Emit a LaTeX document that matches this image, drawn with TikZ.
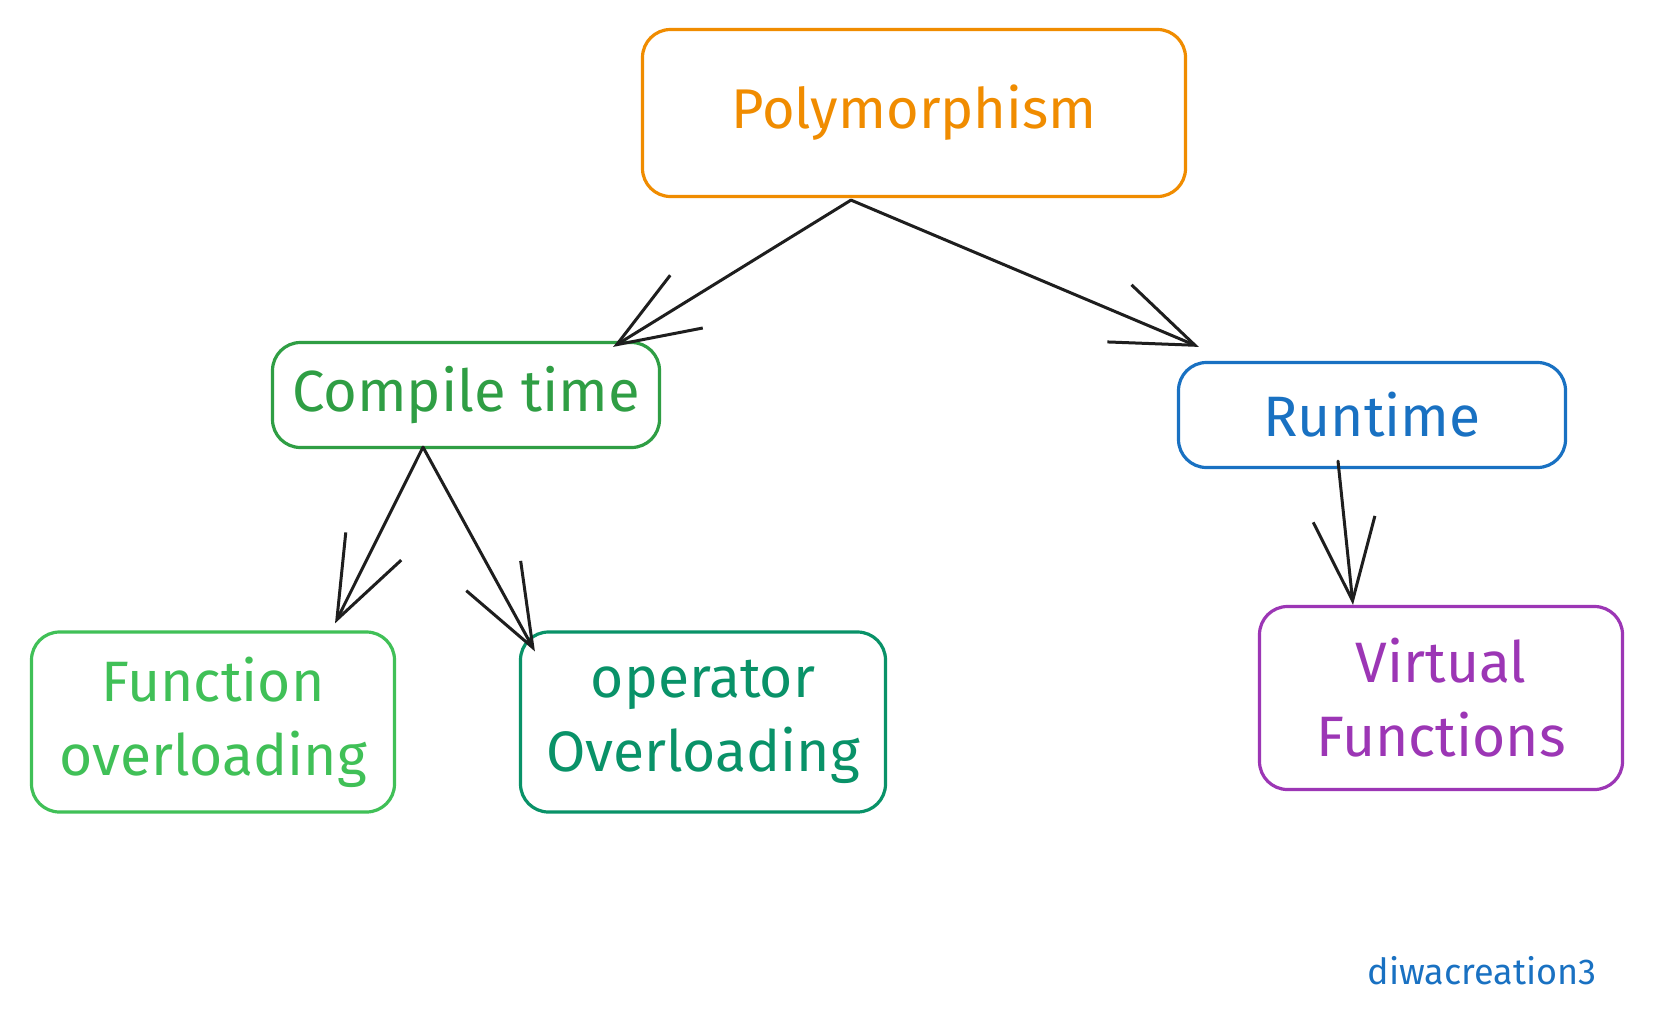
\documentclass[tikz,border=0pt]{standalone}
\usepackage{fontspec}
\setmainfont{Fira Sans}
\definecolor{polyOrange}{RGB}{240, 140, 0}
\definecolor{compileGreen}{RGB}{47, 158, 68}
\definecolor{runBlue}{RGB}{25, 113, 194}
\definecolor{funcGreen}{RGB}{64, 192, 87}
\definecolor{operTeal}{RGB}{9, 146, 104}
\definecolor{virtPurple}{RGB}{156, 54, 181}
\definecolor{inkBlack}{RGB}{30, 30, 30}
\usetikzlibrary{arrows.meta}

\begin{document}
\begin{tikzpicture}[x=1pt, y=-1pt,
    box/.style={rectangle, rounded corners=28pt, line width=3.2pt, inner sep=0pt, align=center,
        font=\fontsize{57}{74}\selectfont},
    link/.style={-{Straight Barb[length=82pt, width=62pt, line width=3pt]}, line width=3pt, inkBlack,
        line cap=round, line join=round}]
    \useasboundingbox[fill=white] (0,0) rectangle (1653,1026);

    \node[box, draw=polyOrange, text=polyOrange, minimum width=543pt, minimum height=167pt,
        font=\fontsize{56}{74}\selectfont] (poly) at (914,113) {Polymorphism};

    \node[box, draw=compileGreen, text=compileGreen, minimum width=387pt, minimum height=105pt,
        font=\fontsize{58}{74}\selectfont] (compile) at (466,395) {Compile time};

    \node[box, draw=runBlue, text=runBlue, minimum width=387pt, minimum height=105pt] (runtime) at (1372,415) {Runtime};

    \node[box, draw=funcGreen, text=funcGreen, minimum width=363pt, minimum height=180pt] (funcover) at (213,722) {Function\\overloading};

    \node[box, draw=operTeal, text=operTeal, minimum width=365pt, minimum height=180pt] (operover) at (703,722) {operator\\Overloading};

    \node[box, draw=virtPurple, text=virtPurple, minimum width=363pt, minimum height=183pt] (virtual) at (1441,698) {Virtual\\Functions};

    \node[text=runBlue, font=\fontsize{36}{42}\selectfont] (sign) at (1482,971) {diwacreation3};

    \draw[link] ([xshift=-63pt, yshift=-2pt]poly.south) -- ([xshift=-48pt, yshift=-6pt]compile.north east);
    \draw[link] ([xshift=-63pt, yshift=-2pt]poly.south) -- ([xshift=22pt, yshift=14pt]runtime.north west);
    \draw[link] ([xshift=-43pt, yshift=2pt]compile.south) -- ([xshift=122pt, yshift=7pt]funcover.north);
    \draw[link] ([xshift=-43pt, yshift=2pt]compile.south) -- ([xshift=16pt, yshift=-21pt]operover.north west);
    \draw[link] ([xshift=-34pt, yshift=8pt]runtime.south) -- ([xshift=-88pt]virtual.north);
\end{tikzpicture}
\end{document}
